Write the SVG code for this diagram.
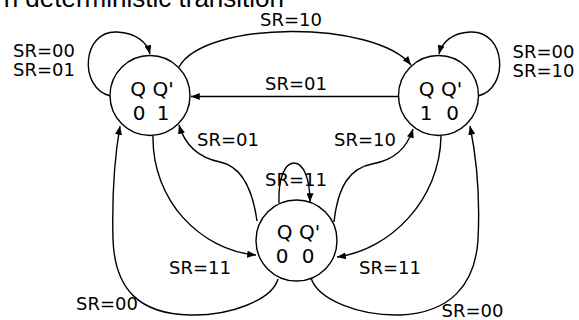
<svg xmlns="http://www.w3.org/2000/svg" width="579" height="320" viewBox="0 0 579 320">
<style>
.bg{fill:#fff}
.title{font-family:"Liberation Sans",Arial,sans-serif;font-size:26px;fill:#000}
.lbl{font-family:"DejaVu Sans",sans-serif;font-size:18px;fill:#000}
.st{font-family:"DejaVu Sans",sans-serif;font-size:20px;fill:#000;text-anchor:middle}
.node{fill:#fff;stroke:#000;stroke-width:1.4}
.edge{fill:none;stroke:#000;stroke-width:1.4}
</style>
<defs>
<marker id="arr" viewBox="0 0 10 8" refX="10" refY="4" markerWidth="9" markerHeight="7" orient="auto" markerUnits="userSpaceOnUse">
<path d="M0,0 L10,4 L0,8 z" fill="#000"/>
</marker>
</defs>
<rect class="bg" x="0" y="0" width="579" height="320"/>
<text class="title" x="284" y="6.5" text-anchor="end">n deterministic transition</text>
<g id="connectors">
<path class="edge" marker-end="url(#arr)" d="M110.5,96 C78,88 82,30 117,32 C136,33 147,42 150,54"/>
<path class="edge" marker-end="url(#arr)" d="M478,96 C510,88 506,30 470,32 C452,33 442,42 439,54"/>
<path class="edge" marker-end="url(#arr)" d="M179,67 C205,20 375,20 411,65"/>
<path class="edge" marker-end="url(#arr)" d="M398,96.5 L191,96.5"/>
<path class="edge" marker-end="url(#arr)" d="M257,221 C252,185 240,166 220,162 C195,157 184,142 179,125"/>
<path class="edge" marker-end="url(#arr)" d="M334,222 C338,186 350,168 372,164 C395,160 407,148 413,129"/>
<path class="edge" marker-end="url(#arr)" d="M279,203 C278,178 285,163 294,163 C304,163 310,180 310,202"/>
<path class="edge" marker-end="url(#arr)" d="M153,136 C152,200 200,250 256,255"/>
<path class="edge" marker-end="url(#arr)" d="M278,279 C272,300 230,316 190,315 C140,314 115,290 113,240 C112,200 114,160 120,126"/>
<path class="edge" marker-end="url(#arr)" d="M441,136 C440,200 390,250 337,257"/>
<path class="edge" marker-end="url(#arr)" d="M311,278 C318,300 360,316 400,315 C450,313 475,285 478,240 C480,200 477,160 470,126"/>
</g>
<g id="labels">
<text class="lbl" x="13" y="56.5">SR=00</text>
<text class="lbl" x="13" y="76">SR=01</text>
<text class="lbl" x="260" y="26">SR=10</text>
<text class="lbl" x="512.5" y="57.5">SR=00</text>
<text class="lbl" x="512.5" y="77">SR=10</text>
<text class="lbl" x="265" y="90">SR=01</text>
<text class="lbl" x="197" y="146">SR=01</text>
<text class="lbl" x="334" y="146">SR=10</text>
<text class="lbl" x="265" y="186">SR=11</text>
<text class="lbl" x="169" y="274">SR=11</text>
<text class="lbl" x="359" y="274">SR=11</text>
<text class="lbl" x="76" y="310">SR=00</text>
<text class="lbl" x="441.5" y="317">SR=00</text>
</g>
<g id="state01">
<circle class="node" cx="150" cy="95.5" r="40"/>
<text class="st" x="152" y="96">Q Q'</text>
<text class="st" x="139" y="120">0</text>
<text class="st" x="163" y="120">1</text>
</g>
<g id="state10">
<circle class="node" cx="438.5" cy="95.5" r="40"/>
<text class="st" x="440.5" y="96">Q Q'</text>
<text class="st" x="426" y="120">1</text>
<text class="st" x="452.5" y="120">0</text>
</g>
<g id="state00">
<circle class="node" cx="296.5" cy="240.5" r="40.5"/>
<text class="st" x="298.5" y="238.5">Q Q'</text>
<text class="st" x="282" y="262.5">0</text>
<text class="st" x="308" y="262.5">0</text>
</g>
</svg>
